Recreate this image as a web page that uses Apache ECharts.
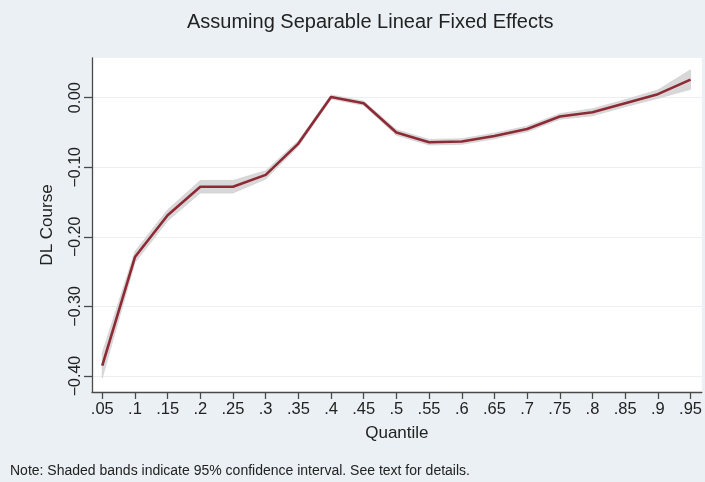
<!DOCTYPE html>
<html>
<head>
<meta charset="utf-8">
<script src="https://cdn.jsdelivr.net/npm/echarts@6/dist/echarts.min.js"></script>
<style>
html,body{margin:0;padding:0;background:#eaf0f3;}
#chart{width:705px;height:482px;}
</style>
</head>
<body>
<div id="chart"></div>
<script>
var quantiles = [0.05,0.10,0.15,0.20,0.25,0.30,0.35,0.40,0.45,0.50,0.55,0.60,0.65,0.70,0.75,0.80,0.85,0.90,0.95];
var xTickLabels = ['.05','.1','.15','.2','.25','.3','.35','.4','.45','.5','.55','.6','.65','.7','.75','.8','.85','.9','.95'];
var estimate = [-0.385,-0.229,-0.169,-0.128,-0.128,-0.111,-0.066,0.001,-0.008,-0.050,-0.064,-0.063,-0.055,-0.045,-0.027,-0.021,-0.008,0.005,0.026];
var lower    = [-0.403,-0.237,-0.177,-0.137,-0.137,-0.117,-0.070,-0.002,-0.011,-0.054,-0.068,-0.067,-0.059,-0.049,-0.031,-0.026,-0.013,-0.001,0.012];
var upper    = [-0.367,-0.221,-0.161,-0.119,-0.119,-0.105,-0.062,0.004,-0.005,-0.046,-0.060,-0.059,-0.051,-0.041,-0.023,-0.016,-0.003,0.011,0.040];
var yTicks = [-0.4,-0.3,-0.2,-0.1,0.0];

var chart = echarts.init(document.getElementById('chart'), null, {renderer:'canvas'});
var FONT = 'Liberation Sans, Arial, Helvetica, sans-serif';

function fmtY(v){
  var s = Math.abs(v).toFixed(2);
  return (v < -1e-9 ? '\u2212' : '') + s;
}

var bandData = quantiles.map(function(q,i){return [q, lower[i], upper[i]];});
var lineData = quantiles.map(function(q,i){return [q, estimate[i]];});

function renderBand(params, api){
  var n = bandData.length;
  if (params.dataIndex !== 0) return null;
  var pts = [];
  for (var i=0;i<n;i++) pts.push(api.coord([bandData[i][0], bandData[i][2]]));
  for (var j=n-1;j>=0;j--) pts.push(api.coord([bandData[j][0], bandData[j][1]]));
  return {type:'polygon', shape:{points:pts}, style:{fill:'#d8d8d8', stroke:'#d2d2d2', lineWidth:0.8}, silent:true};
}

chart.setOption({
  backgroundColor:'#eaf0f3',
  animation:false,
  graphic:[
    {type:'text', left:187, top:12, style:{text:'Assuming Separable Linear Fixed Effects', font:'20px '+FONT, fill:'#222'}},
    {type:'text', left:10, top:464, style:{text:'Note: Shaded bands indicate 95% confidence interval. See text for details.', font:'14px '+FONT, fill:'#222'}}
  ],
  grid:{left:92, top:58, right:2, bottom:90, show:true, backgroundColor:'#ffffff', borderWidth:0, containLabel:false},
  xAxis:{
    type:'value', min:0.0343, max:0.9672,
    name:'Quantile', nameLocation:'middle', nameGap:33,
    nameTextStyle:{fontFamily:FONT, fontSize:17, color:'#222'},
    axisLine:{show:true, onZero:false, lineStyle:{color:'#4a4a4a', width:1.3}},
    axisTick:{show:true, length:7, lineStyle:{color:'#4a4a4a', width:1.3}, customValues:quantiles},
    axisLabel:{fontFamily:FONT, fontSize:16.5, color:'#222', margin:9, customValues:quantiles,
      formatter:function(v){ var i = quantiles.findIndex(function(q){return Math.abs(q-v)<1e-6;}); return i>=0 ? xTickLabels[i] : ''; }},
    splitLine:{show:false}
  },
  yAxis:{
    type:'value', min:-0.423, max:0.057,
    name:'DL Course', nameLocation:'middle', nameGap:36, nameRotate:90,
    nameTextStyle:{fontFamily:FONT, fontSize:17, color:'#222'},
    axisLine:{show:true, onZero:false, lineStyle:{color:'#4a4a4a', width:1.3}},
    axisTick:{show:true, length:8, lineStyle:{color:'#4a4a4a', width:1.3}, customValues:yTicks},
    axisLabel:{fontFamily:FONT, fontSize:16, color:'#222', rotate:90, margin:8, customValues:yTicks, formatter:fmtY},
    splitLine:{show:true, lineStyle:{color:'#eceff1', width:1.2}}
  },
  series:[
    {type:'custom', data:bandData, renderItem:renderBand, encode:{x:0, y:[1,2]}, silent:true, z:2},
    {type:'line', data:lineData, symbol:'none', lineStyle:{color:'#8e2a36', width:2.6}, z:5}
  ]
});
</script>
</body>
</html>
